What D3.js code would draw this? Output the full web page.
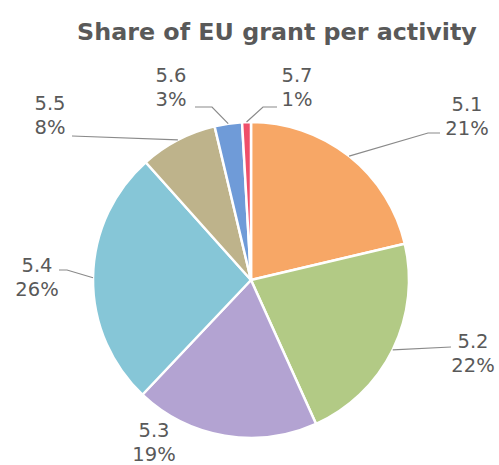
<!DOCTYPE html>
<html>
<head>
<meta charset="utf-8">
<script src="https://cdn.jsdelivr.net/npm/d3@7"></script>
<style>
  html, body { margin: 0; padding: 0; background: #fff; }
  svg { display: block; }
</style>
</head>
<body>
<svg id="chart" width="499" height="465"></svg>
<script>
// ---- data ----
const categories = ["5.1", "5.2", "5.3", "5.4", "5.5", "5.6", "5.7"];
const values = [21.3, 21.9, 18.8, 26.3, 7.9, 2.8, 0.9];
const colors = ["#F7A766", "#B2CA85", "#B3A3D2", "#86C6D7", "#BEB38B", "#6F9BD8", "#EF4F6A"];
const title = "Share of EU grant per activity";

// ---- layout (label anchor positions, not data) ----
const labelLayout = [
  { x: 467, y: 111, leader: [[428, 133], [440, 133]] },
  { x: 473, y: 348, leader: [[451, 347]] },
  { x: 154, y: 437, leader: null },
  { x: 37,  y: 272, leader: [[67, 270], [59, 270]] },
  { x: 50,  y: 110, leader: [[72, 136]] },
  { x: 171, y: 82,  leader: [[212, 107], [195, 107]] },
  { x: 297, y: 82,  leader: [[263, 107], [277, 107]] }
];

const svg = d3.select("#chart");
const cx = 251, cy = 280, r = 158;
const textColor = "#595959";

// title
const t = svg.append("text")
  .attr("x", 277).attr("y", 40)
  .attr("text-anchor", "middle")
  .attr("font-family", "'DejaVu Sans', Verdana, sans-serif")
  .attr("font-weight", "bold")
  .attr("font-size", 22)
  .attr("fill", textColor)
  .text(title);
const tw = t.node().getComputedTextLength();
t.attr("font-size", 22 * 400 / tw);

const total = d3.sum(values);
const pie = d3.pie().sort(null).value(d => d);
const arcs = pie(values);
const arc = d3.arc().innerRadius(0).outerRadius(r);
const edge = d3.arc().innerRadius(r).outerRadius(r);

const g = svg.append("g").attr("transform", `translate(${cx},${cy})`);
g.selectAll("path.slice")
  .data(arcs)
  .join("path")
  .attr("class", "slice")
  .attr("d", arc)
  .attr("fill", (d, i) => colors[i])
  .attr("stroke", "#ffffff")
  .attr("stroke-width", 2.5)
  .attr("stroke-linejoin", "round");

// leader lines
const line = d3.line();
arcs.forEach((d, i) => {
  const lay = labelLayout[i];
  if (!lay.leader) return;
  const c = edge.centroid(d);
  const pts = [[cx + c[0], cy + c[1]]].concat(lay.leader);
  svg.append("path")
    .attr("d", line(pts))
    .attr("fill", "none")
    .attr("stroke", "#8a8a8a")
    .attr("stroke-width", 1.2);
});

// labels
arcs.forEach((d, i) => {
  const lay = labelLayout[i];
  const txt = svg.append("text")
    .attr("text-anchor", "middle")
    .attr("font-family", "'DejaVu Sans', Verdana, sans-serif")
    .attr("font-size", 19.5)
    .attr("fill", textColor);
  txt.append("tspan").attr("x", lay.x).attr("y", lay.y).text(categories[i]);
  txt.append("tspan").attr("x", lay.x).attr("y", lay.y + 24)
    .text(Math.round(d.value / total * 100) + "%");
});
</script>
</body>
</html>
